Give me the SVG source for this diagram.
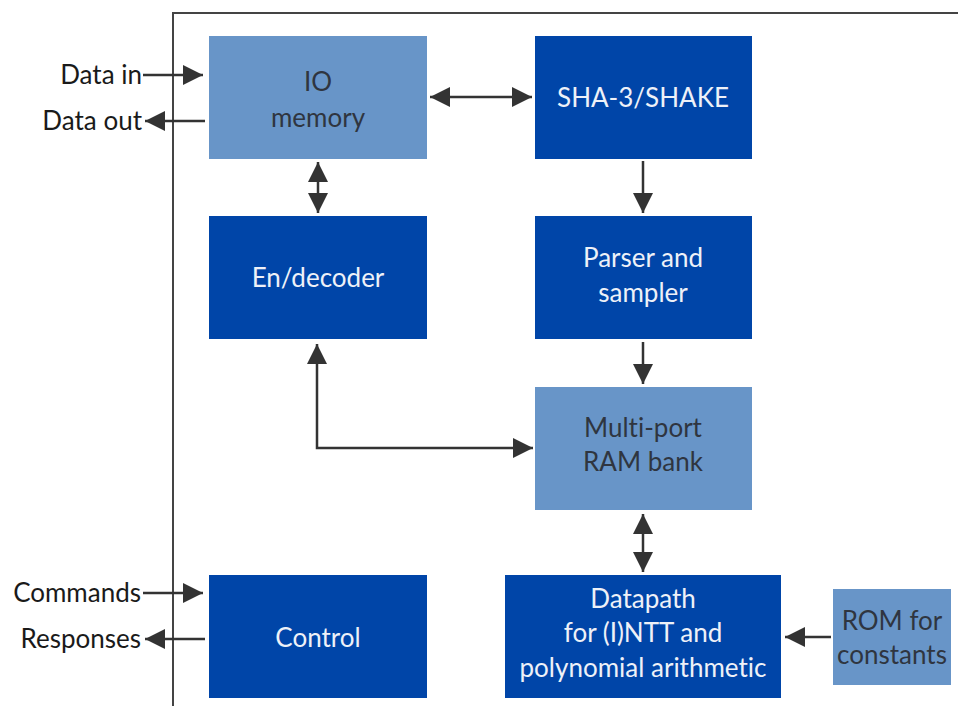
<svg xmlns="http://www.w3.org/2000/svg" width="958" height="706" viewBox="0 0 958 706">
<defs>
<style>
text{font-variant-ligatures:none}
.dark{fill:#0045a8}
.light{fill:#6895c8}
.wt{fill:#eef1f8;font-family:Lato,"Open Sans",sans-serif;font-size:26px;text-anchor:middle}
.bt{fill:#2f3540;font-family:Lato,"Open Sans",sans-serif;font-size:26px;text-anchor:middle}
.lbl{fill:#1a1a1a;font-family:Lato,"Open Sans",sans-serif;font-size:26px;text-anchor:end}
.c{stroke:#333;stroke-width:2.5;fill:none}
</style>
<marker id="ah" viewBox="0 0 20 20" refX="20" refY="10" markerWidth="20" markerHeight="20" markerUnits="userSpaceOnUse" orient="auto-start-reverse">
<path d="M0,0 L20,10 L0,20 Z" fill="#333"/>
</marker>
</defs>
<rect width="958" height="706" fill="#fff"/>
<path d="M173,706 V13 H958" stroke="#444" stroke-width="2" fill="none"/>
<g id="io-memory"><rect class="light" x="209" y="36" width="218" height="123"/><text class="bt" x="318" y="91">IO</text><text class="bt" x="318" y="127">memory</text></g>
<g id="sha3"><rect class="dark" x="535" y="36" width="217" height="123"/><text class="wt" x="643" y="107">SHA-3/SHAKE</text></g>
<g id="endecoder"><rect class="dark" x="209" y="216" width="218" height="123"/><text class="wt" x="318" y="287">En/decoder</text></g>
<g id="parser"><rect class="dark" x="535" y="216" width="217" height="123"/><text class="wt" x="643" y="267">Parser and</text><text class="wt" x="643" y="302">sampler</text></g>
<g id="ram"><rect class="light" x="535" y="387" width="217" height="123"/><text class="bt" x="643" y="437">Multi-port</text><text class="bt" x="643" y="471">RAM bank</text></g>
<g id="control"><rect class="dark" x="209" y="575" width="218" height="123"/><text class="wt" x="318" y="647">Control</text></g>
<g id="datapath"><rect class="dark" x="505" y="575" width="276" height="123"/><text class="wt" x="643" y="608">Datapath</text><text class="wt" x="643" y="642">for (I)NTT and</text><text class="wt" x="643" y="677">polynomial arithmetic</text></g>
<g id="rom"><rect class="light" x="833" y="589" width="118" height="96"/><text class="bt" x="892" y="630">ROM for</text><text class="bt" x="892" y="664">constants</text></g>
<g id="labels">
<text class="lbl" x="142" y="84">Data in</text>
<text class="lbl" x="142" y="130">Data out</text>
<text class="lbl" x="141" y="602">Commands</text>
<text class="lbl" x="141" y="648">Responses</text>
</g>
<g id="connectors">
<path class="c" d="M143,75 H203" marker-end="url(#ah)"/>
<path class="c" d="M205,121 H145" marker-end="url(#ah)"/>
<path class="c" d="M143,593 H203" marker-end="url(#ah)"/>
<path class="c" d="M205,639 H145" marker-end="url(#ah)"/>
<path class="c" d="M430,97 H532" marker-start="url(#ah)" marker-end="url(#ah)"/>
<path class="c" d="M318,162 V213" marker-start="url(#ah)" marker-end="url(#ah)"/>
<path class="c" d="M643,161 V213" marker-end="url(#ah)"/>
<path class="c" d="M643,342 V384" marker-end="url(#ah)"/>
<path class="c" d="M643,514 V572" marker-start="url(#ah)" marker-end="url(#ah)"/>
<path class="c" d="M317,344 V448 H533" stroke="#111" marker-start="url(#ah)" marker-end="url(#ah)"/>
<path class="c" d="M831,637 H785" marker-end="url(#ah)"/>
</g>
</svg>
